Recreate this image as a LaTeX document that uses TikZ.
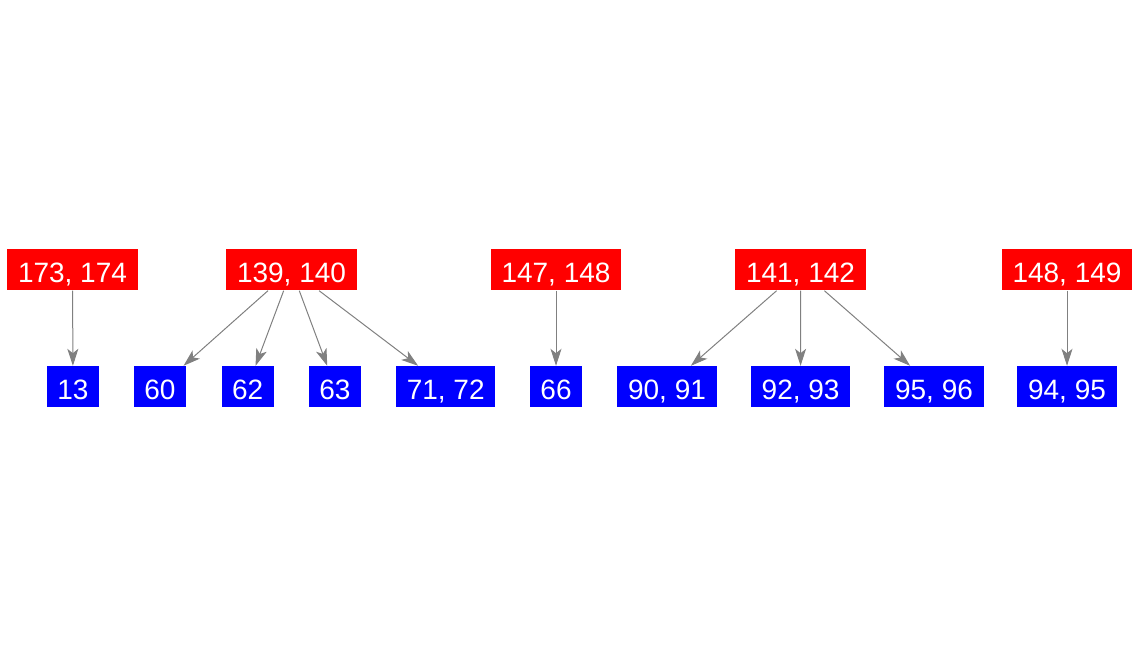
\documentclass[tikz,border=0pt]{standalone}
\usepackage{fontspec}
\setmainfont{Liberation Sans}
\usetikzlibrary{arrows.meta}
\definecolor{linkgray}{RGB}{128,128,128}

\begin{document}
\begin{tikzpicture}[x=0.5pt,y=-0.5pt,
  every node/.style={font=\fontsize{14}{16}\selectfont,text=white,
    inner xsep=5.3pt,inner ysep=0pt,text height=16.5pt,text depth=4pt},
  redbox/.style={fill=red},
  bluebox/.style={fill=blue},
  link/.style={draw=linkgray,line width=0.5pt,-{Stealth[length=8.5pt,width=5.5pt,inset=2.2pt]}}]
  \useasboundingbox (0,0) rectangle (1140,656);
  % parents
  \node[redbox] (r173) at (72.5,269.8) {173, 174};
  \node[redbox] (r139) at (291.5,269.8) {139, 140};
  \node[redbox] (r147) at (556,269.8) {147, 148};
  \node[redbox] (r141) at (800.5,269.8) {141, 142};
  \node[redbox] (r148) at (1067,269.8) {148, 149};
  % children
  \node[bluebox] (b13) at (73,386.7) {13};
  \node[bluebox] (b60) at (160,386.7) {60};
  \node[bluebox] (b62) at (247.7,386.7) {62};
  \node[bluebox] (b63) at (335,386.7) {63};
  \node[bluebox] (b71) at (445.7,386.7) {71, 72};
  \node[bluebox] (b66) at (556,386.7) {66};
  \node[bluebox] (b90) at (667,386.7) {90, 91};
  \node[bluebox] (b92) at (800.6,386.7) {92, 93};
  \node[bluebox] (b95) at (934,386.7) {95, 96};
  \node[bluebox] (b94) at (1067,386.7) {94, 95};
  % edges
  \draw[link] (r173) -- (b13);
  \foreach \c in {b60,b62,b63,b71}
    \draw[link] (r139) -- (\c);
  \draw[link] (r147) -- (b66);
  \foreach \c in {b90,b92,b95}
    \draw[link] (r141) -- (\c);
  \draw[link] (r148) -- (b94);
\end{tikzpicture}
\end{document}
